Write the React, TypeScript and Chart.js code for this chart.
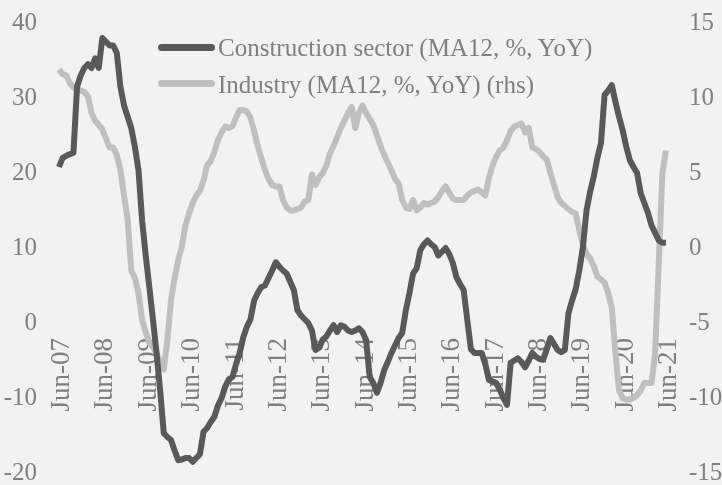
import React, { useEffect, useRef } from "react";
import { Chart, registerables } from "chart.js";

Chart.register(...registerables);

const START_YEAR = 2007;
const START_MONTH = 5; // June (0-based)
const MONTH_NAMES = ["Jan", "Feb", "Mar", "Apr", "May", "Jun", "Jul", "Aug", "Sep", "Oct", "Nov", "Dec"];

// Construction sector (MA12, %, YoY), monthly from Jun-07 to Jun-21 (left axis)
const construction = [
  20.8, 22, 22.3, 22.5, 22.7, 31.5, 33, 34, 34.5, 34, 35.3, 34,
  38, 37.5, 37, 37, 36, 31.5, 29, 27.5, 26, 23.5, 20.4, 13.7,
  9, 4.8, 0.5, -4, -9, -14.7, -15.2, -15.6, -17, -18.3, -18.2, -18,
  -18, -18.5, -18, -17.5, -14.5, -14, -13.2, -12.5, -11, -10, -8.5, -7.5,
  -7.2, -5.5, -4, -1.9, -0.5, 0.5, 3, 4, 4.8, 5, 6, 7,
  8.1, 7.5, 7, 6.6, 5.5, 4.4, 1.7, 1, 0.5, 0, -1, -3.6,
  -3.3, -2.2, -1.8, -1, -0.3, -1.2, -0.3, -0.5, -1, -1.2, -1, -0.7,
  -1.2, -2.3, -7.2, -8, -9.3, -8, -6.3, -5.2, -4, -3, -2, -1.3,
  1.7, 4, 6.6, 7.3, 9.7, 10.5, 11, 10.5, 10.1, 9, 9.5, 10,
  9.2, 8, 6.1, 5.2, 4.4, 0.4, -3.5, -4, -4, -4, -5.5, -7.6,
  -7.8, -8, -8.9, -10, -10.9, -5.3, -5, -4.7, -5.2, -5.9, -5, -4,
  -4.5, -4.8, -4.9, -3.5, -2, -2.8, -3.6, -3.9, -3.6, 1.3, 3, 4.5,
  7, 10.1, 15, 17.5, 19.5, 22, 24, 30.4, 31, 31.7, 29.5, 27.5,
  25.7, 23.5, 21.7, 20.8, 20, 17.3, 16, 14.7, 13, 12, 11, 10.7,
  10.7,
];

// Industry (MA12, %, YoY), monthly from Jun-07 to Jun-21 (right axis)
const industry = [
  11.9, 11.6, 11.5, 11, 10.7, 10.6, 10.5, 10.4, 10.1, 9, 8.5, 8.2,
  7.9, 7.3, 6.7, 6.7, 6.2, 5.2, 3.5, 1.9, -1.5, -2, -3, -4.8,
  -5.6, -6.3, -6.6, -7, -7.6, -8.1, -6.1, -3.5, -2, -0.8, 0.1, 1.5,
  2.3, 3, 3.5, 3.8, 4.5, 5.5, 5.8, 6.4, 7.2, 7.7, 8.1, 8,
  8.1, 8.7, 9.2, 9.2, 9.1, 8.7, 7.8, 6.8, 6, 5.2, 4.6, 4.2,
  4.1, 4.1, 3.2, 2.7, 2.5, 2.5, 2.6, 2.7, 3.1, 3.2, 4.9, 4.2,
  4.7, 5, 5.5, 6.3, 6.8, 7.4, 8, 8.5, 9, 9.4, 8, 9,
  9.5, 9, 8.6, 8.2, 7.5, 6.8, 6.2, 5.7, 5.2, 4.6, 4.3, 3.2,
  2.7, 2.6, 3.2, 2.5, 2.7, 3, 2.9, 3, 3.1, 3.4, 3.8, 4.1,
  3.7, 3.3, 3.2, 3.2, 3.2, 3.5, 3.7, 3.8, 3.9, 3.7, 3.5, 4.7,
  5.5, 6.1, 6.5, 6.7, 7.2, 7.8, 8.1, 8.2, 8.3, 7.7, 8, 6.7,
  6.6, 6.4, 6.1, 5.9, 5, 4.2, 3.4, 3, 2.8, 2.6, 2.4, 2.3,
  1.2, 0.2, -0.4, -0.7, -1.2, -1.9, -2.1, -2.3, -3, -4, -7, -9.5,
  -10, -10.1, -10.1, -10, -9.8, -9.5, -9, -9, -9, -7, -1, 5,
  6.5,
];

const LABEL_CONSTRUCTION = "Construction sector (MA12, %, YoY)";
const LABEL_INDUSTRY = "Industry (MA12, %, YoY) (rhs)";

const categories: string[] = construction.map((_, i) => {
  const m = START_MONTH + i;
  const year = START_YEAR + Math.floor(m / 12);
  return `${MONTH_NAMES[m % 12]}-${String(year % 100).padStart(2, "0")}`;
});

const TEXT_COLOR = "#7f7f7f";
const DARK = "#595959";
const LIGHT = "#bfbfbf";
const FONT_FAMILY = '"Liberation Serif", serif';

export default function App() {
  const canvasRef = useRef<HTMLCanvasElement | null>(null);

  useEffect(() => {
    document.body.style.margin = "0";
    const canvas = canvasRef.current;
    if (!canvas) return;
    const chart = new Chart(canvas, {
      type: "line",
      data: {
        labels: categories,
        datasets: [
          {
            label: LABEL_CONSTRUCTION,
            data: construction,
            borderColor: DARK,
            borderWidth: 6,
            pointRadius: 0,
            tension: 0,
            yAxisID: "y",
            borderJoinStyle: "round",
          },
          {
            label: LABEL_INDUSTRY,
            data: industry,
            borderColor: LIGHT,
            borderWidth: 6,
            pointRadius: 0,
            tension: 0,
            yAxisID: "y1",
            borderJoinStyle: "round",
          },
        ],
      },
      options: {
        animation: false,
        responsive: false,
        devicePixelRatio: 1,
        layout: { padding: { top: 23, bottom: 12, left: 0, right: 0 } },
        plugins: { legend: { display: false }, tooltip: { enabled: false } },
        scales: {
          x: {
            type: "category",
            position: { y: 0 } as any,
            offset: false,
            z: 1,
            grid: { display: false, drawTicks: false },
            border: { display: false },
            ticks: {
              autoSkip: false,
              minRotation: 90,
              maxRotation: 90,
              padding: 15,
              labelOffset: 3,
              color: TEXT_COLOR,
              font: { family: FONT_FAMILY, size: 27 },
              callback: (_v: any, idx: number) => (idx % 12 === 0 ? categories[idx] : ""),
            },
          },
          y: {
            position: "left",
            min: -20,
            max: 40,
            grid: { display: false, drawTicks: false },
            border: { display: false },
            ticks: {
              stepSize: 10,
              padding: 22,
              color: TEXT_COLOR,
              font: { family: FONT_FAMILY, size: 25 },
            },
            afterFit: (s: any) => {
              s.width = 59;
              s.paddingTop = 0;
              s.paddingBottom = 0;
            },
          },
          y1: {
            position: "right",
            min: -15,
            max: 15,
            grid: { display: false, drawTicks: false },
            border: { display: false },
            ticks: {
              stepSize: 5,
              padding: 23,
              color: TEXT_COLOR,
              font: { family: FONT_FAMILY, size: 25 },
            },
            afterFit: (s: any) => {
              s.width = 56;
              s.paddingTop = 0;
              s.paddingBottom = 0;
            },
          },
        },
      },
    });
    return () => chart.destroy();
  }, []);

  const textStyle: React.CSSProperties = {
    position: "absolute",
    left: 218,
    font: `25px ${FONT_FAMILY}`,
    lineHeight: "25px",
    color: TEXT_COLOR,
    whiteSpace: "nowrap",
  };
  const swatch: React.CSSProperties = {
    position: "absolute",
    left: 158,
    width: 57,
    height: 7,
    borderRadius: 4,
  };

  return (
    <div style={{ position: "relative", width: 722, height: 485, background: "#f2f2f2", overflow: "hidden" }}>
      <canvas ref={canvasRef} width={722} height={485} style={{ display: "block", width: 722, height: 485 }} />
      <div style={{ ...swatch, top: 43.5, background: DARK }} />
      <div style={{ ...textStyle, top: 34.5 }}>{LABEL_CONSTRUCTION}</div>
      <div style={{ ...swatch, top: 79.5, background: LIGHT }} />
      <div style={{ ...textStyle, top: 71.5 }}>{LABEL_INDUSTRY}</div>
    </div>
  );
}
